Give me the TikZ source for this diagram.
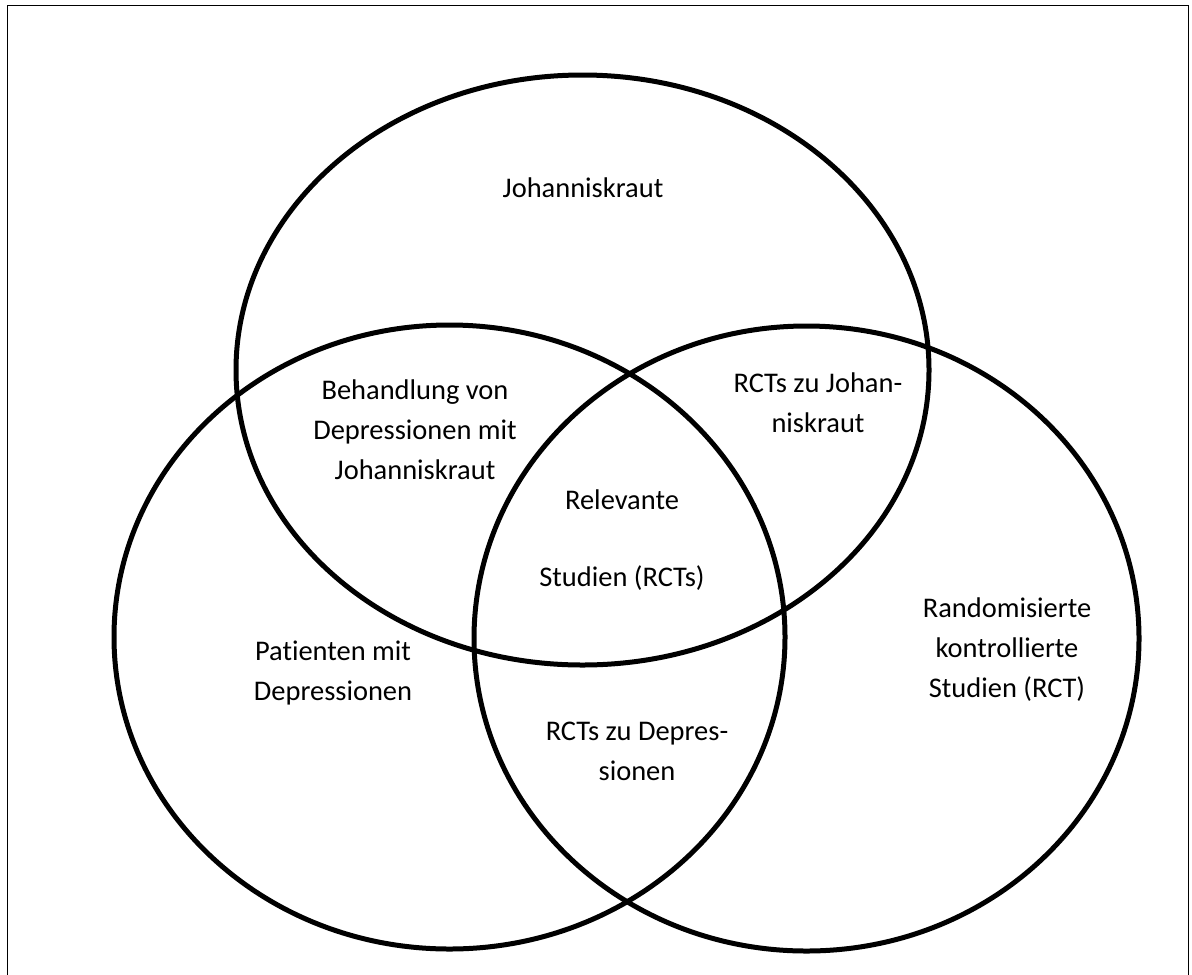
\documentclass[tikz,border=0pt]{standalone}
\usepackage{fontspec}
\setmainfont[Ligatures={NoCommon}]{Carlito}
\begin{document}
\begin{tikzpicture}[x=0.02cm,y=-0.02cm,
  setline/.style={draw=black, line width=0.1cm},
  framebox/.style={draw=black, line width=0.03cm},
  lbl/.style={align=center, inner sep=0pt, font=\fontsize{16.2}{22.8}\selectfont}]
\useasboundingbox (0,0) rectangle (1192,974);
\draw[framebox] (7.5,5.5) rectangle (1188.5,990);
% sets
\draw[setline] (582.5,370) ellipse [x radius=346.5, y radius=295];
\draw[setline] (449.5,637) ellipse [x radius=335.5, y radius=312];
\draw[setline] (806.5,638.5) ellipse [x radius=332.5, y radius=312.5];
% labels
\node[lbl] (johann) at (583,188) {Johanniskraut};
\node[lbl] (behand) at (415,430) {Behandlung von\\Depressionen mit\\Johanniskraut};
\node[lbl] (relev) at (622,540) {Relevante\\[21pt]Studien (RCTs)};
\node[lbl] (rctsj) at (818,403) {RCTs zu Johan-\\niskraut};
\node[lbl] (patient) at (333,673) {Patienten mit\\Depressionen};
\node[lbl] (rctsd) at (637,751) {RCTs zu Depres-\\sionen};
\node[lbl] (random) at (1007,650) {Randomisierte\\kontrollierte\\Studien (RCT)};
\end{tikzpicture}
\end{document}
